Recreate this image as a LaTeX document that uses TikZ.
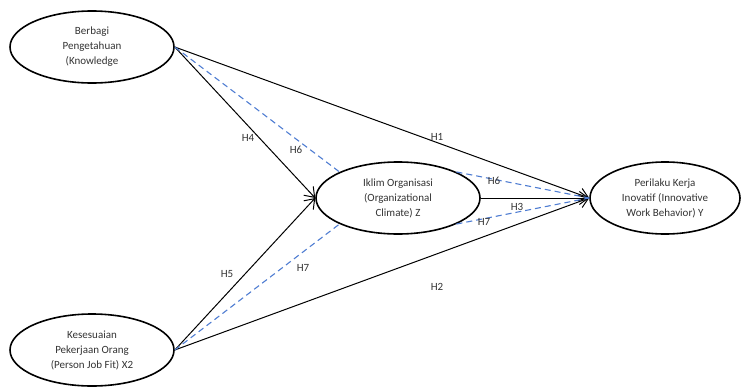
\documentclass[tikz,border=0pt]{standalone}
\usepackage{fontspec}
\setmainfont{Carlito}
\usetikzlibrary{shapes.geometric,arrows.meta}
\tikzset{
  var/.style={ellipse,draw=black,line width=1.6pt,minimum width=164pt,minimum height=72pt,inner sep=0pt,align=center,font=\fontsize{11}{15}\selectfont,text=black!80},
  path/.style={draw=black,line width=1pt,-{Straight Barb[length=9pt,width=13pt,line width=1pt]}},
  med/.style={draw={rgb,255:red,79;green,125;blue,210},line width=1.1pt,dash pattern=on 6pt off 4pt},
  lab/.style={font=\fontsize{11}{12}\selectfont,text=black!80,inner sep=1pt}
}
\begin{document}
\begin{tikzpicture}[x=1pt,y=-1pt]
\useasboundingbox (0,0) rectangle (744,386);
\node[var] (X1) at (92,47) {Berbagi\\Pengetahuan\\(Knowledge};
\node[var] (X2) at (92,350) {Kesesuaian\\Pekerjaan Orang\\(Person Job Fit) X2};
\node[var] (Z) at (398,198) {Iklim Organisasi\\(Organizational\\Climate) Z};
\node[var,minimum width=150pt] (Y) at (665,198) {Perilaku Kerja\\Inovatif (Innovative\\Work Behavior) Y};
% solid paths
\draw[path] (X1.east) -- (Z.west);
\draw[path] (X1.east) -- (Y.west);
\draw[path] (X2.east) -- (Z.west);
\draw[path] (X2.east) -- (Y.west);
\draw[path] (Z.east) -- (Y.west);
% mediation dashed
\draw[med] (X1.east) -- (Z.156);
\draw[med] (X2.east) -- (Z.204);
\draw[med] (Z.24) -- (Y.west);
\draw[med] (Z.336) -- (Y.west);
% labels
\node[lab] (h4) at (248,138) {H4};
\node[lab] (h6a) at (296,150) {H6};
\node[lab] (h1) at (437,137) {H1};
\node[lab] (h6b) at (494,181) {H6};
\node[lab] (h3) at (517,207) {H3};
\node[lab] (h7b) at (484,222) {H7};
\node[lab] (h5) at (227,274) {H5};
\node[lab] (h7a) at (303,268) {H7};
\node[lab] (h2) at (437,287) {H2};
\end{tikzpicture}
\end{document}
